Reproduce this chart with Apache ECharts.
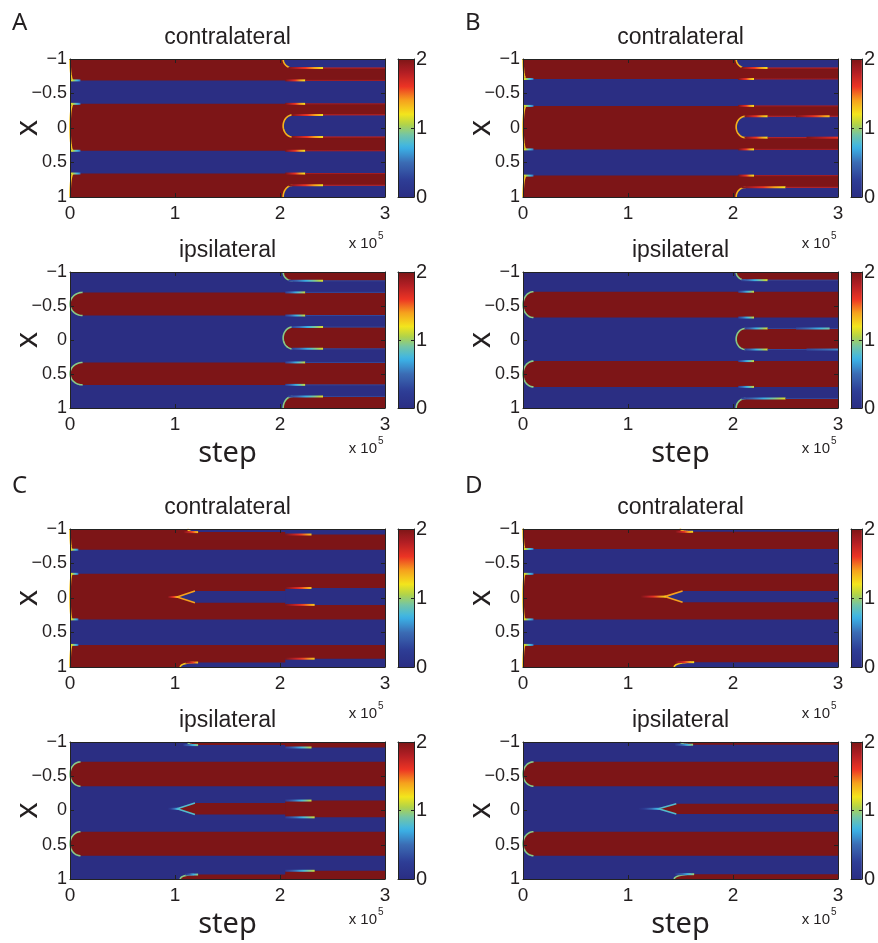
<!DOCTYPE html>
<html>
<head>
<meta charset="utf-8">
<script src="https://cdn.jsdelivr.net/npm/echarts@6/dist/echarts.min.js"></script>
<style>
html, body { margin: 0; padding: 0; background: #fff; }
#chart { width: 878px; height: 943px; }
</style>
</head>
<body>
<div id="chart"></div>
<script>
// step axis in units of 1e5, position axis x from -1 (top) to 1 (bottom)
const stepTicks = [0, 1, 2, 3];
const posTicks = [-1, -0.5, 0, 0.5, 1];
const colorTicks = [0, 1, 2];

// bands: [start step, x top, x bottom, value, cap depth (negative = pointed), cap outline value]
const aContraBands = [
    [0, -1, 1, 0, 0, null],
    [0, -1.31, -0.69, 2, 0.03, 1.3],
    [0, -0.35, 0.33, 2, 0.03, 1.3],
    [0, 0.66, 1.34, 2, 0.03, 1.3],
    [2.03, -1.13, -0.87, 0, 0.09, 1.35],
    [2.03, -0.19, 0.13, 0, 0.09, 1.35],
    [2.03, 0.83, 1.17, 0, 0.09, 1.35]
];
// streaks: [from step, to step, x, value at start, value at end]
const aContraStreaks = [
    [0.01, 0.1, -0.69, 1.2, 0.5], [0.01, 0.1, -0.35, 1.2, 0.5],
    [0.01, 0.1, 0.33, 1.2, 0.5], [0.01, 0.1, 0.66, 1.2, 0.5],
    [2.08, 2.41, -0.87, 2, 1.2], [2.05, 2.24, -0.69, 2, 1.2],
    [2.05, 2.24, -0.35, 2, 1.2], [2.11, 2.41, -0.19, 2, 1.2],
    [2.11, 2.41, 0.13, 2, 1.2], [2.05, 2.24, 0.33, 2, 1.2],
    [2.05, 2.24, 0.66, 2, 1.2], [2.08, 2.41, 0.83, 2, 1.2],
    [2.41, 3, -0.87, 1.75, 1.75], [2.24, 3, -0.69, 1.85, 1.85],
    [2.24, 3, -0.35, 1.85, 1.85], [2.41, 3, -0.19, 1.75, 1.75],
    [2.41, 3, 0.13, 1.75, 1.75], [2.24, 3, 0.33, 1.85, 1.85],
    [2.24, 3, 0.66, 1.85, 1.85], [2.41, 3, 0.83, 1.75, 1.75]
];

const aIpsiBands = [
    [0, -1, 1, 0, 0, null],
    [0, -0.70, -0.36, 2, 0.12, 0.95],
    [0, 0.33, 0.66, 2, 0.12, 0.95],
    [2.03, -1.13, -0.87, 2, 0.09, 0.95],
    [2.03, -0.19, 0.13, 2, 0.09, 0.95],
    [2.03, 0.83, 1.17, 2, 0.09, 0.95]
];
const aIpsiStreaks = [
    [2.08, 2.41, -0.87, 0.25, 1.15], [2.05, 2.24, -0.70, 0.25, 1.1],
    [2.05, 2.24, -0.36, 0.25, 1.1], [2.11, 2.41, -0.19, 0.25, 1.15],
    [2.11, 2.41, 0.13, 0.25, 1.15], [2.05, 2.24, 0.33, 0.25, 1.1],
    [2.05, 2.24, 0.66, 0.25, 1.1], [2.08, 2.41, 0.83, 0.25, 1.15],
    [2.41, 3, -0.87, 0.3, 0.3], [2.24, 3, -0.70, 0.3, 0.3],
    [2.24, 3, -0.36, 0.3, 0.3], [2.41, 3, -0.19, 0.3, 0.3],
    [2.41, 3, 0.13, 0.3, 0.3], [2.24, 3, 0.33, 0.3, 0.3],
    [2.24, 3, 0.66, 0.3, 0.3], [2.41, 3, 0.83, 0.3, 0.3]
];

const bContraBands = [
    [0, -1, 1, 0, 0, null],
    [0, -1.29, -0.71, 2, 0.03, 1.3],
    [0, -0.32, 0.31, 2, 0.03, 1.3],
    [0, 0.69, 1.31, 2, 0.03, 1.3],
    [2.03, -1.13, -0.87, 0, 0.09, 1.35],
    [2.03, -0.17, 0.14, 0, 0.09, 1.35],
    [2.03, 0.86, 1.14, 0, 0.09, 1.35]
];
const bContraStreaks = [
    [0.01, 0.1, -0.71, 1.2, 0.5], [0.01, 0.1, -0.32, 1.2, 0.5],
    [0.01, 0.1, 0.31, 1.2, 0.5], [0.01, 0.1, 0.69, 1.2, 0.5],
    [2.08, 2.33, -0.87, 2, 1.2], [2.05, 2.2, -0.71, 2, 1.2],
    [2.05, 2.2, -0.32, 2, 1.2], [2.11, 2.33, -0.17, 2, 1.2],
    [2.11, 2.33, 0.14, 2, 1.2], [2.05, 2.2, 0.31, 2, 1.2],
    [2.05, 2.2, 0.69, 2, 1.2], [2.08, 2.5, 0.86, 2, 1.2],
    [2.33, 3, -0.87, 1.75, 1.75], [2.2, 3, -0.71, 1.85, 1.85],
    [2.2, 3, -0.32, 1.85, 1.85], [2.33, 3, -0.17, 1.75, 1.75],
    [2.33, 3, 0.14, 1.75, 1.75], [2.2, 3, 0.31, 1.85, 1.85],
    [2.2, 3, 0.69, 1.85, 1.85], [2.5, 3, 0.86, 1.75, 1.75],
    [2.6, 2.92, -0.17, 2, 1.3], [2.7, 3, 0.14, 2, 1.6]
];

const bIpsiBands = [
    [0, -1, 1, 0, 0, null],
    [0, -0.71, -0.33, 2, 0.1, 0.95],
    [0, 0.31, 0.69, 2, 0.1, 0.95],
    [2.03, -1.12, -0.88, 2, 0.09, 0.95],
    [2.03, -0.17, 0.14, 2, 0.09, 0.95],
    [2.03, 0.86, 1.14, 2, 0.09, 0.95]
];
const bIpsiStreaks = [
    [2.08, 2.33, -0.88, 0.25, 1.15], [2.05, 2.2, -0.71, 0.25, 1.1],
    [2.05, 2.2, -0.33, 0.25, 1.1], [2.11, 2.33, -0.17, 0.25, 1.15],
    [2.11, 2.33, 0.14, 0.25, 1.15], [2.05, 2.2, 0.31, 0.25, 1.1],
    [2.05, 2.2, 0.69, 0.25, 1.1], [2.08, 2.5, 0.86, 0.25, 1.15],
    [2.33, 3, -0.88, 0.3, 0.3], [2.33, 3, -0.17, 0.3, 0.3],
    [2.33, 3, 0.14, 0.3, 0.3], [2.5, 3, 0.86, 0.3, 0.3],
    [2.6, 2.92, -0.17, 0.3, 0.9], [2.7, 3, 0.14, 0.3, 0.6]
];

const cContraBands = [
    [0, -1, 1, 0, 0, null],
    [0, -1.3, -0.70, 2, 0.02, 1.3],
    [0, -0.35, 0.31, 2, 0.02, 1.3],
    [0, 0.68, 1.32, 2, 0.02, 1.3],
    [1.02, -0.10, 0.07, 0, -0.17, 1.4],
    [2.05, -0.145, 0.1, 0, 0, null],
    [1.12, -1.05, -0.955, 0, 0.08, 1.3],
    [2.05, -1.08, -0.92, 0, 0, null],
    [1.05, 0.935, 1.065, 0, 0.13, 1.3],
    [2.05, 0.88, 1.12, 0, 0, null]
];
const cContraStreaks = [
    [0.01, 0.08, -0.70, 1.2, 0.5], [0.01, 0.08, -0.35, 1.2, 0.5],
    [0.01, 0.08, 0.31, 1.2, 0.5], [0.01, 0.08, 0.68, 1.2, 0.5],
    [0.93, 1.03, -0.015, 2, 1.3],
    [1.08, 1.22, -0.955, 2, 1.3], [1.1, 1.22, 0.935, 2, 1.3],
    [2.05, 2.3, -0.92, 2, 1.3], [2.05, 2.3, -0.145, 2, 1.3],
    [2.05, 2.33, 0.1, 2, 1.3], [2.05, 2.33, 0.88, 2, 1.3]
];

const cIpsiBands = [
    [0, -1, 1, 0, 0, null],
    [0, -0.71, -0.355, 2, 0.1, 0.95],
    [0, 0.31, 0.66, 2, 0.1, 0.95],
    [1.02, -0.11, 0.06, 2, -0.17, 0.8],
    [2.05, -0.145, 0.1, 2, 0, null],
    [1.12, -1.05, -0.955, 2, 0.08, 0.95],
    [2.05, -1.08, -0.92, 2, 0, null],
    [1.05, 0.935, 1.065, 2, 0.13, 0.95],
    [2.05, 0.88, 1.12, 2, 0, null]
];
const cIpsiStreaks = [
    [0.93, 1.03, -0.025, 0, 0.8],
    [1.08, 1.22, -0.955, 0.2, 1.0], [1.1, 1.22, 0.935, 0.2, 1.0],
    [2.05, 2.3, -0.92, 0.2, 1.1], [2.05, 2.3, -0.145, 0.2, 1.1],
    [2.05, 2.33, 0.1, 0.2, 1.1], [2.05, 2.33, 0.88, 0.2, 1.1]
];

const dContraBands = [
    [0, -1, 1, 0, 0, null],
    [0, -1.3, -0.71, 2, 0.02, 1.3],
    [0, -0.35, 0.31, 2, 0.02, 1.3],
    [0, 0.68, 1.32, 2, 0.02, 1.3],
    [1.35, -0.1, 0.06, 0, -0.17, 1.4],
    [1.5, -1.04, -0.96, 0, 0.1, 1.3],
    [1.44, 0.93, 1.07, 0, 0.16, 1.3]
];
const dContraStreaks = [
    [0.01, 0.1, -0.71, 1.2, 0.5], [0.01, 0.1, -0.35, 1.2, 0.5],
    [0.01, 0.1, 0.31, 1.2, 0.5], [0.01, 0.1, 0.68, 1.2, 0.5],
    [1.12, 1.36, -0.02, 2, 1.25],
    [1.45, 1.62, -0.96, 2, 1.2], [1.45, 1.63, 0.93, 2, 1.2]
];

const dIpsiBands = [
    [0, -1, 1, 0, 0, null],
    [0, -0.71, -0.355, 2, 0.1, 0.95],
    [0, 0.31, 0.66, 2, 0.1, 0.95],
    [1.29, -0.1, 0.05, 2, -0.17, 0.8],
    [1.5, -1.04, -0.96, 2, 0.1, 0.95],
    [1.44, 0.93, 1.07, 2, 0.16, 0.95]
];
const dIpsiStreaks = [
    [1.1, 1.3, -0.025, 0, 0.8],
    [1.45, 1.62, -0.96, 0.2, 1.0], [1.45, 1.63, 0.93, 0.2, 1.0]
];

// jet-like colormap as printed in the figure
const cmapStops = [
    [0.00, '#2b2e83'], [0.12, '#2d3c95'], [0.25, '#3b6cb4'], [0.36, '#3bb4e8'],
    [0.45, '#73c5a6'], [0.53, '#b5d444'], [0.60, '#f3e51c'], [0.70, '#f6a11d'],
    [0.80, '#ec3424'], [0.90, '#b41f24'], [1.00, '#7d1517']
];
function hexRgb(h) {
    return [parseInt(h.slice(1, 3), 16), parseInt(h.slice(3, 5), 16), parseInt(h.slice(5, 7), 16)];
}
function cmap(v) {
    const t = Math.max(0, Math.min(1, v / 2));
    for (let i = 1; i < cmapStops.length; i++) {
        if (t <= cmapStops[i][0]) {
            const a = cmapStops[i - 1], b = cmapStops[i];
            const f = (t - a[0]) / (b[0] - a[0]);
            const ca = hexRgb(a[1]), cb = hexRgb(b[1]);
            const c = ca.map((x, k) => Math.round(x + (cb[k] - x) * f));
            return 'rgb(' + c.join(',') + ')';
        }
    }
    return cmapStops[cmapStops.length - 1][1];
}
function gradStops(v0, v1, n) {
    const out = [];
    for (let k = 0; k <= n; k++) out.push({ offset: k / n, color: cmap(v0 + (v1 - v0) * k / n) });
    return out;
}

const tickFont = "'Liberation Sans', Arial, sans-serif";
const textColor = '#231f20';

const panels = [
    { letter: 'A', title: 'contralateral', bands: aContraBands, streaks: aContraStreaks, left: 70, top: 59, height: 138, ipsi: false, letterY: 23 },
    { title: 'ipsilateral', bands: aIpsiBands, streaks: aIpsiStreaks, left: 70, top: 272, height: 136, ipsi: true },
    { letter: 'B', title: 'contralateral', bands: bContraBands, streaks: bContraStreaks, left: 523, top: 59, height: 138, ipsi: false, letterY: 23 },
    { title: 'ipsilateral', bands: bIpsiBands, streaks: bIpsiStreaks, left: 523, top: 272, height: 136, ipsi: true },
    { letter: 'C', title: 'contralateral', bands: cContraBands, streaks: cContraStreaks, left: 70, top: 529, height: 138, ipsi: false, letterY: 486 },
    { title: 'ipsilateral', bands: cIpsiBands, streaks: cIpsiStreaks, left: 70, top: 742, height: 137, ipsi: true },
    { letter: 'D', title: 'contralateral', bands: dContraBands, streaks: dContraStreaks, left: 523, top: 529, height: 138, ipsi: false, letterY: 486 },
    { title: 'ipsilateral', bands: dIpsiBands, streaks: dIpsiStreaks, left: 523, top: 742, height: 137, ipsi: true }
];

function bandItem(params, api) {
    const cs = params.coordSys;
    const clampX = x => Math.max(cs.x, Math.min(cs.x + cs.width, x));
    const clampY = y => Math.max(cs.y, Math.min(cs.y + cs.height, y));
    const x0 = api.value(0), cap = api.value(4), edgeV = api.value(5);
    const pA = api.coord([x0, api.value(1)]);
    const pB = api.coord([stepTicks[stepTicks.length - 1], api.value(2)]);
    const capPx = api.coord([x0 + Math.abs(cap), 0])[0] - pA[0];
    const L = pA[0], R = pB[0];
    const top = Math.min(pA[1], pB[1]), bot = Math.max(pA[1], pB[1]);
    const mid = (top + bot) / 2, ry = (bot - top) / 2;
    let arc;
    if (cap > 0) {
        arc = [];
        for (let i = 0; i <= 30; i++) {
            const a = -Math.PI / 2 - Math.PI * i / 30;
            arc.push([L + capPx + capPx * Math.cos(a), mid + ry * Math.sin(a)]);
        }
    } else if (cap < 0) {
        arc = [[L + capPx, top], [L, mid], [L + capPx, bot]];
    } else {
        arc = [[L, top], [L, bot]];
    }
    const poly = arc.concat([[R, bot], [R, top]]).map(p => [clampX(p[0]), clampY(p[1])]);
    const children = [{ type: 'polygon', shape: { points: poly }, style: { fill: cmap(api.value(3)) } }];
    if (cap !== 0 && edgeV != null && !isNaN(edgeV)) {
        const edge = arc.filter(p => p[1] >= cs.y - 0.5 && p[1] <= cs.y + cs.height + 0.5 && p[0] >= cs.x);
        children.push({ type: 'polyline', shape: { points: edge }, style: { stroke: cmap(edgeV), lineWidth: 1.6, fill: null } });
    }
    return { type: 'group', children };
}

function streakItem(params, api) {
    const cs = params.coordSys;
    const v0 = api.value(3), v1 = api.value(4);
    const p0 = api.coord([api.value(0), api.value(2)]);
    const p1 = api.coord([api.value(1), api.value(2)]);
    const y = Math.max(cs.y + 1, Math.min(cs.y + cs.height - 1, p0[1]));
    const flat = v0 === v1;
    return {
        type: 'line',
        shape: { x1: p0[0], y1: y, x2: Math.min(p1[0], cs.x + cs.width), y2: y },
        style: {
            lineWidth: flat ? 1 : 2,
            stroke: { type: 'linear', x: p0[0], y: 0, x2: p1[0], y2: 0, global: true, colorStops: gradStops(v0, v1, 8) }
        }
    };
}

function colorbarItem(params, api) {
    const p0 = api.coord([0, api.value(0)]);
    const p1 = api.coord([1, api.value(1)]);
    return {
        type: 'rect',
        shape: { x: p0[0], y: p1[1], width: p1[0] - p0[0], height: p0[1] - p1[1] },
        style: { fill: { type: 'linear', x: 0, y: p0[1], x2: 0, y2: p1[1], global: true, colorStops: gradStops(0, 2, 40) } }
    };
}

const axisLineStyle = { show: true, onZero: false, lineStyle: { color: '#222', width: 1 } };
const grid = [], xAxis = [], yAxis = [], series = [], graphic = [];

panels.forEach(p => {
    const gi = grid.length;
    grid.push({ left: p.left, top: p.top, width: 315, height: p.height });
    const xi = xAxis.length, yi = yAxis.length;
    ['bottom', 'top'].forEach((pos, k) => xAxis.push({
        type: 'value', gridIndex: gi, position: pos, z: 5,
        min: stepTicks[0], max: stepTicks[stepTicks.length - 1], interval: 1,
        axisLine: axisLineStyle,
        axisTick: { show: true, inside: true, length: 4, lineStyle: { color: '#222' } },
        axisLabel: { show: k === 0, margin: 7, fontSize: 19, color: textColor, fontFamily: tickFont, showMinLabel: true, showMaxLabel: true },
        splitLine: { show: false }
    }));
    ['left', 'right'].forEach((pos, k) => yAxis.push({
        type: 'value', gridIndex: gi, position: pos, z: 5, inverse: true,
        min: posTicks[0], max: posTicks[posTicks.length - 1], interval: 0.5,
        axisLine: axisLineStyle,
        axisTick: { show: true, inside: true, length: 4, lineStyle: { color: '#222' } },
        axisLabel: { show: k === 0, margin: 3, fontSize: 18, color: textColor, fontFamily: tickFont, showMinLabel: true, showMaxLabel: true,
            formatter: v => String(v).replace('-', '\u2212') },
        splitLine: { show: false }
    }));
    series.push({ type: 'custom', xAxisIndex: xi, yAxisIndex: yi, data: p.bands, renderItem: bandItem, silent: true });
    series.push({ type: 'custom', xAxisIndex: xi, yAxisIndex: yi, data: p.streaks, renderItem: streakItem, silent: true });

    // colorbar
    const cg = grid.length;
    grid.push({ left: p.left + 328, top: p.top, width: 16, height: p.height });
    const cxi = xAxis.length, cyi = yAxis.length;
    ['bottom', 'top'].forEach(pos => xAxis.push({
        type: 'value', gridIndex: cg, position: pos, min: 0, max: 1, z: 5,
        axisLine: axisLineStyle, axisTick: { show: false }, axisLabel: { show: false }, splitLine: { show: false }
    }));
    ['right', 'left'].forEach((pos, k) => yAxis.push({
        type: 'value', gridIndex: cg, position: pos, z: 5,
        min: colorTicks[0], max: colorTicks[colorTicks.length - 1], interval: 1,
        axisLine: axisLineStyle,
        axisTick: { show: true, inside: true, length: 3, lineStyle: { color: '#222' } },
        axisLabel: { show: k === 0, margin: 2, fontSize: 20, color: textColor, fontFamily: tickFont, showMinLabel: true, showMaxLabel: true },
        splitLine: { show: false }
    }));
    series.push({ type: 'custom', xAxisIndex: cxi, yAxisIndex: cyi,
        data: [[colorTicks[0], colorTicks[colorTicks.length - 1]]], renderItem: colorbarItem, silent: true });

    // texts
    const cx = p.left + 157.5, bottom = p.top + p.height;
    const txt = (text, x, y, size, family, align, extra) => Object.assign({
        type: 'text', x, y, silent: true,
        style: { text, fontSize: size, fontFamily: family, fill: textColor,
            align, textAlign: align, verticalAlign: 'middle', textVerticalAlign: 'middle' }
    }, extra || {});
    graphic.push(txt(p.title, cx, p.top - 21, 23, "'Liberation Sans', Arial, sans-serif", 'center'));
    graphic.push(txt('x', p.left - 42, p.top + p.height / 2, 32, "'Liberation Sans', Arial, sans-serif", 'center', { rotation: Math.PI / 2 }));
    const expY = bottom + (p.ipsi ? 41 : 47);
    graphic.push(txt('x 10', p.left + 307, expY, 15, "'Liberation Sans', Arial, sans-serif", 'right'));
    graphic.push(txt('5', p.left + 308, expY - 8, 10, "'Liberation Sans', Arial, sans-serif", 'left'));
    if (p.ipsi) graphic.push(txt('step', cx, bottom + 46, 29, "'Noto Sans', 'Open Sans', sans-serif", 'center'));
    if (p.letter) graphic.push(txt(p.letter, p.left - 58, p.letterY, 24, "'Noto Sans', 'Open Sans', sans-serif", 'left'));
});

const chart = echarts.init(document.getElementById('chart'));
chart.setOption({
    animation: false,
    backgroundColor: '#fff',
    grid, xAxis, yAxis, series, graphic
});
</script>
</body>
</html>
